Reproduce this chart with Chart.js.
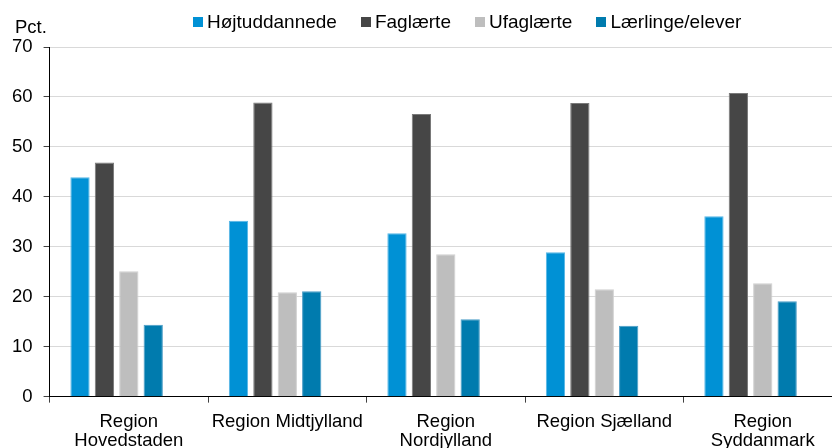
<!DOCTYPE html>
<html>
<head>
<meta charset="utf-8">
<script src="https://cdn.jsdelivr.net/npm/chart.js@4.4.1/dist/chart.umd.min.js"></script>
<style>
  html, body { margin: 0; padding: 0; background: #fff; overflow: hidden; width: 832px; height: 448px; }
  #wrap { position: absolute; left: 0; top: 0; width: 842px; height: 460px; }
  #legend { position: absolute; left: 193px; top: 12px; display: flex; gap: 24px;
            font-family: "Liberation Sans", Arial, sans-serif; font-size: 19px; line-height: 20px; color: #000; }
  .item { display: flex; align-items: center; white-space: nowrap; }
  .box { width: 10px; height: 10px; margin-right: 4px; display: inline-block; }
</style>
</head>
<body>
<div id="wrap"><canvas id="c"></canvas></div>
<div id="legend"></div>
<script>
const categories = [["Region", "Hovedstaden"], "Region Midtjylland", ["Region", "Nordjylland"], "Region Sjælland", ["Region", "Syddanmark"]];
const seriesNames = ["Højtuddannede", "Faglærte", "Ufaglærte", "Lærlinge/elever"];
const hojtuddannede = [43.9, 35.2, 32.7, 28.9, 36.1];
const faglaerte = [46.9, 58.9, 56.6, 58.8, 60.8];
const ufaglaerte = [25.1, 20.9, 28.5, 21.5, 22.7];
const laerlinge = [14.4, 21.1, 15.5, 14.2, 19.1];
const emptySlot = [null, null, null, null, null];
const yTicks = [0, 10, 20, 30, 40, 50, 60, 70];
const yUnit = "Pct.";

const colors = ["#0091D5", "#464646", "#BEBEBE", "#007BAE"];
const borders = ["#55B6E6", "#7A7A7A", "#D0D0D0", "#4A9CC6"];
const FONT = '"Liberation Sans", Arial, sans-serif';

const values = [hojtuddannede, faglaerte, ufaglaerte, laerlinge];
const datasets = values.map((v, i) => ({
  label: seriesNames[i], data: v, backgroundColor: colors[i],
  borderColor: borders[i], borderWidth: 1
}));
datasets.push({ label: "", data: emptySlot, backgroundColor: "rgba(0,0,0,0)" });

// HTML legend
const lg = document.getElementById("legend");
seriesNames.forEach((n, i) => {
  const it = document.createElement("span"); it.className = "item";
  const b = document.createElement("span"); b.className = "box"; b.style.background = colors[i];
  it.appendChild(b); it.appendChild(document.createTextNode(n)); lg.appendChild(it);
});

const unitPlugin = {
  id: "unit",
  afterDraw(chart) {
    const ctx = chart.ctx; ctx.save();
    ctx.font = "18.5px " + FONT; ctx.fillStyle = "#000"; ctx.textBaseline = "alphabetic"; ctx.textAlign = "left";
    ctx.fillText(yUnit, 15, 33);
    ctx.restore();
  }
};

new Chart(document.getElementById("c"), {
  type: "bar",
  data: { labels: categories, datasets },
  plugins: [unitPlugin],
  options: {
    responsive: true, maintainAspectRatio: false, animation: false,
    layout: { padding: { left: 1, top: 47, right: 0, bottom: 0 } },
    datasets: { bar: { categoryPercentage: 0.77, barPercentage: 0.79 } },
    plugins: { legend: { display: false }, tooltip: { enabled: false } },
    scales: {
      x: {
        grid: { drawOnChartArea: false, drawTicks: true, tickLength: 6, tickColor: "#404040", offset: true },
        border: { color: "#000", width: 1 },
        ticks: { color: "#000", font: { family: FONT, size: 18.5, lineHeight: 1.01 }, padding: 10, maxRotation: 0, autoSkip: false }
      },
      y: {
        min: 0, max: 70,
        afterBuildTicks(scale) { scale.ticks = yTicks.map(v => ({ value: v })); },
        grid: { color: ctx => (ctx.tick && ctx.tick.value === 0) ? "rgba(0,0,0,0)" : "#D9D9D9", tickLength: 6, tickColor: "#404040" },
        border: { color: "#000", width: 1 },
        ticks: { color: "#000", font: { family: FONT, size: 18.5 }, padding: 11 }
      }
    }
  }
});
</script>
</body>
</html>
